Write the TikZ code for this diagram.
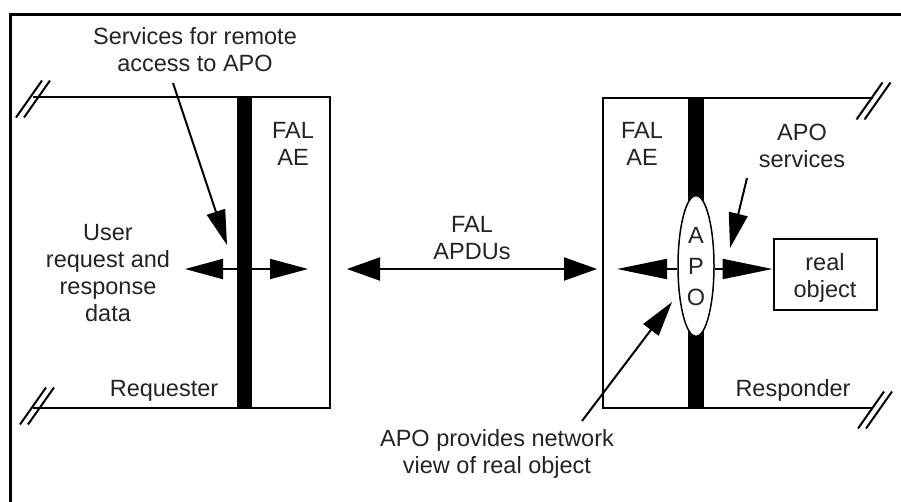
\documentclass[tikz,border=0pt]{standalone}
\usepackage{fontspec}
\setmainfont{Liberation Sans}
\usetikzlibrary{arrows.meta,shapes.geometric}
\definecolor{txt}{RGB}{35,35,35}
\tikzset{
  lbl/.style={inner sep=0pt, align=center, text=txt, font=\fontsize{23.5}{27}\selectfont},
  edge/.style={line width=2pt},
  frame/.style={line width=3pt},
  bar/.style={fill=black},
  bigtip/.style={line width=2pt, {Triangle[length=38pt,width=20pt]}-{Triangle[length=38pt,width=20pt]}},
  midtip/.style={line width=2pt, {Triangle[length=33pt,width=23pt]}-{Triangle[length=33pt,width=23pt]}},
  longtip/.style={line width=2pt, -{Triangle[length=50pt,width=20pt]}},
  ptr/.style={line width=2pt, -{Triangle[length=35pt,width=19pt]}},
  hashmark/.style={line width=2pt},
}
\begin{document}
\begin{tikzpicture}[x=1pt,y=-1pt]
\useasboundingbox (0,0) rectangle (901,501);
% outer frame (only top and left visible)
\draw[frame] (10,510) -- (10,14) -- (910,14);

% ---- left (requester) block ----
\draw[edge] (33,97) -- (330,97) -- (330,408) -- (33,408);
\fill[bar] (237,97) rectangle (252,408);
% ---- right (responder) block ----
\draw[edge] (873,98) -- (603,98) -- (603,408) -- (873,408);
\fill[bar] (688,98) rectangle (704,408);

% break marks
\foreach \cx/\cy in {33/99, 873.5/101, 37/406, 875/410}{
  \draw[hashmark] (\cx-4-13,\cy+18.5) -- (\cx-4+13,\cy-18.5)
                  (\cx+4-13,\cy+18.5) -- (\cx+4+13,\cy-18.5);
}

% texts
\node[lbl] (svc) at (195,50) {Services for remote\\access to APO};
\node[lbl] (falL) at (293,143.5) {FAL\\AE};
\node[lbl] (falR) at (642,143.5) {FAL\\AE};
\node[lbl] (user) at (108,273.5) {User\\request and\\response\\data};
\node[lbl, anchor=base] (req) at (164,396) {Requester};
\node[lbl, anchor=base] (resp) at (793,396) {Responder};
\node[lbl] (apdu) at (472,238) {FAL\\APDUs};
\node[lbl] (aposvc) at (802,146) {APO\\services};
\node[lbl] (view) at (497,454) {APO provides network\\view of real object};

% APO ellipse and real object
\node[ellipse, draw, line width=1.5pt, fill=white, minimum width=36pt, minimum height=141pt, inner sep=0pt] (apo) at (696,266) {};
\node[lbl, font=\fontsize{23.5}{31}\selectfont] (apotxt) at (696,267) {A\\P\\O};
\node[draw, line width=2pt, minimum width=103pt, minimum height=71pt, inner sep=0pt] (real) at (825,274.5) {};
\node[lbl] (realtxt) at (825,278) {real\\object};

% arrows
\coordinate (uL) at (185,269);
\coordinate (uR) at (308,269);
\draw[bigtip] (uL) -- (uR);

\coordinate (mL) at (347,269);
\coordinate (mR) at (597,269);
\draw[midtip] (mL) -- (mR);

\coordinate (rL) at (617,269);
\draw[longtip] (apo.west |- rL) -- (rL);
\draw[longtip] (apo.east |- rL) -- (real.west |- rL);

\coordinate (svcTail) at (173,83);
\coordinate (svcTip) at (227,245);
\draw[ptr] (svcTail) -- (svcTip);

\coordinate (asTail) at (747,178);
\coordinate (asTip) at (730,248);
\draw[ptr] (asTail) -- (asTip);

\coordinate (vTail) at (582,421);
\coordinate (vTip) at (672,302);
\draw[ptr] (vTail) -- (vTip);
\end{tikzpicture}
\end{document}
